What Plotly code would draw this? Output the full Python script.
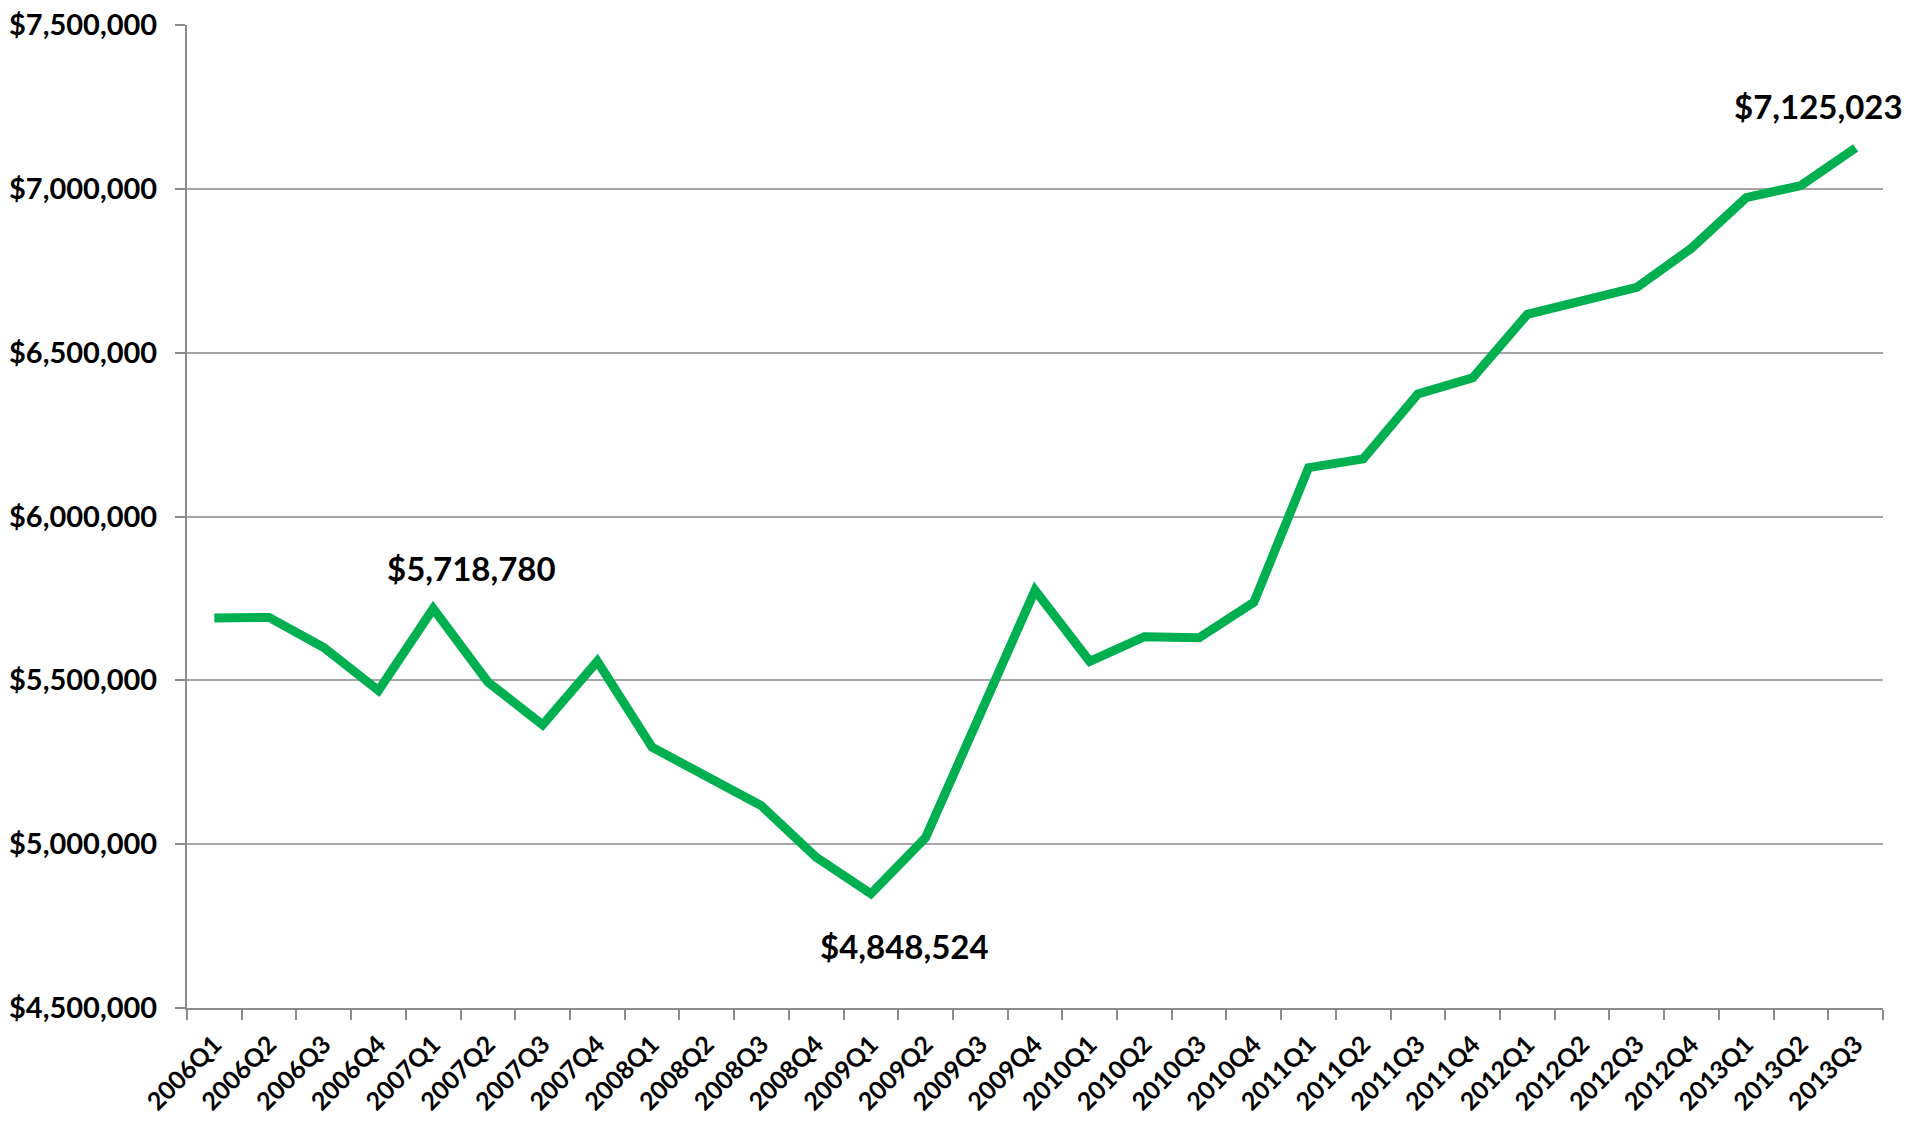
import plotly.graph_objects as go

quarters = ["2006Q1", "2006Q2", "2006Q3", "2006Q4",
            "2007Q1", "2007Q2", "2007Q3", "2007Q4",
            "2008Q1", "2008Q2", "2008Q3", "2008Q4",
            "2009Q1", "2009Q2", "2009Q3", "2009Q4",
            "2010Q1", "2010Q2", "2010Q3", "2010Q4",
            "2011Q1", "2011Q2", "2011Q3", "2011Q4",
            "2012Q1", "2012Q2", "2012Q3", "2012Q4",
            "2013Q1", "2013Q2", "2013Q3"]

values = [5690000, 5692000, 5600000, 5469000,
          5718780, 5495000, 5364000, 5558000,
          5296000, 5203000, 5117000, 4960000,
          4848524, 5020000, 5401000, 5775000,
          5558000, 5633000, 5630000, 5738000,
          6149000, 6176000, 6374000, 6423000,
          6617000, 6655000, 6699000, 6819000,
          6973000, 7010000, 7125023]

y_ticks = [4500000, 5000000, 5500000, 6000000, 6500000, 7000000, 7500000]
y_tick_labels = ["$4,500,000", "$5,000,000", "$5,500,000", "$6,000,000",
                 "$6,500,000", "$7,000,000", "$7,500,000"]

# labelled points: (index, text, xshift, yshift)
labelled = [(4, "$5,718,780", 38, 41),
            (12, "$4,848,524", 34, -52),
            (30, "$7,125,023", -37, 42)]

FONT = "Lato"
GRID = "#a6a6a6"
AXIS = "#8c8c8c"

fig = go.Figure()
fig.add_trace(go.Scatter(
    x=quarters, y=values, mode="lines",
    line=dict(color="#00b050", width=9),
    showlegend=False, hoverinfo="skip",
))

for idx, txt, xs, ys in labelled:
    fig.add_annotation(
        x=quarters[idx], y=values[idx], xref="x", yref="y",
        text=f"<b>{txt}</b>", showarrow=False,
        xshift=xs, yshift=ys,
        font=dict(family=FONT, size=33, color="black"),
    )

# page body has an 8px margin, so the figure is sized/margined to compensate
fig.update_layout(
    width=1914, height=1115,
    margin=dict(l=179, r=39, t=17, b=115),
    paper_bgcolor="white", plot_bgcolor="white",
    font=dict(family=FONT, color="black"),
)

fig.update_xaxes(
    type="category", range=[-0.5, len(quarters) - 0.5], automargin=False,
    tickson="boundaries", ticks="outside", ticklen=10, tickwidth=1.5,
    tickcolor=AXIS, showline=True, linecolor=AXIS, linewidth=2,
    showgrid=False, tickangle=-45, ticklabelstandoff=10,
    ticklabeloverflow="allow",
    tickfont=dict(family=FONT, size=25, color="black", weight="bold"),
)
fig.update_yaxes(
    range=[4500000, 7500000], tickvals=y_ticks, ticktext=y_tick_labels,
    automargin=False, ticklabeloverflow="allow",
    ticks="outside", ticklen=10, tickwidth=1.5, tickcolor=AXIS,
    showline=True, linecolor=AXIS, linewidth=2, ticklabelstandoff=12,
    showgrid=True, gridcolor=GRID, gridwidth=1.5, zeroline=False,
    tickfont=dict(family=FONT, size=29, color="black", weight="bold"),
)

fig.write_html("out.html")
